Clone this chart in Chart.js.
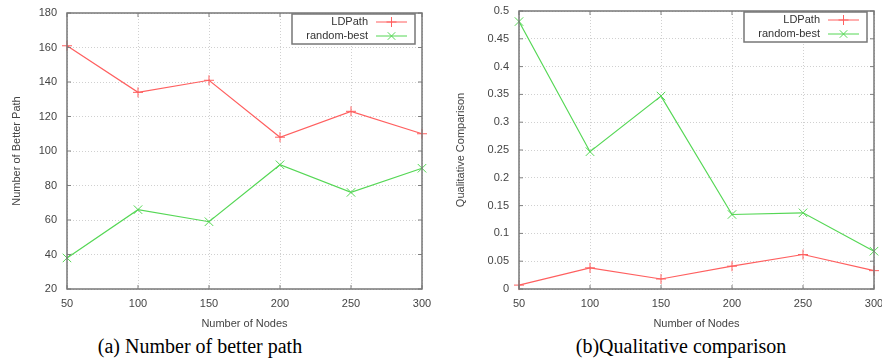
<!DOCTYPE html>
<html>
<head>
<meta charset="utf-8">
<script src="https://cdn.jsdelivr.net/npm/chart.js@4"></script>
<style>
  html, body { margin: 0; padding: 0; background: #fff; overflow: hidden; }
  body { width: 882px; height: 363px; position: relative; }
  .box { position: absolute; top: 0; }
  .cap { position: absolute; top: 335px; font-family: "Liberation Serif", "Times New Roman", serif; font-size: 20px; color: #000; white-space: nowrap; text-align: center; }
</style>
</head>
<body>
<div class="box" style="left:0"><canvas id="c1" width="441" height="335"></canvas></div>
<div class="box" style="left:441px"><canvas id="c2" width="441" height="335"></canvas></div>
<div class="cap" style="left:60px;width:280px">(a) Number of better path</div>
<div class="cap" style="left:541px;width:280px">(b)Qualitative comparison</div>
<script>
var nodes = [50, 100, 150, 200, 250, 300];
var seriesNames = ["LDPath", "random-best"];

// (a) number of better path
var ldpathBetter = [161, 134, 141, 108, 123, 110];
var randomBetter = [38, 66, 59, 92, 76, 90];
// (b) qualitative comparison
var ldpathQual = [0.007, 0.038, 0.018, 0.041, 0.062, 0.033];
var randomQual = [0.481, 0.247, 0.347, 0.134, 0.137, 0.068];

var xTicks = [50, 100, 150, 200, 250, 300];
var yTicksA = [20, 40, 60, 80, 100, 120, 140, 160, 180];
var yTicksB = [0, 0.05, 0.1, 0.15, 0.2, 0.25, 0.3, 0.35, 0.4, 0.45, 0.5];

var RED = 'rgb(255,95,95)';
var GREEN = 'rgb(85,215,85)';
var FONT = '"Liberation Sans", Arial, sans-serif';

function pts(ys) {
  return nodes.map(function (x, i) { return { x: x, y: ys[i] }; });
}

// frame around the plot + small inward tick marks
var framePlugin = {
  id: 'frame',
  afterDatasetsDraw: function (chart) {
    var a = chart.chartArea, c = chart.ctx;
    var xs = chart.scales.x, ys = chart.scales.y;
    c.save();
    c.strokeStyle = '#808080';
    c.lineWidth = 1;
    xs.ticks.forEach(function (t) {
      var px = xs.getPixelForValue(t.value);
      c.beginPath(); c.moveTo(px, a.bottom); c.lineTo(px, a.bottom - 4); c.stroke();
      c.beginPath(); c.moveTo(px, a.top); c.lineTo(px, a.top + 4); c.stroke();
    });
    ys.ticks.forEach(function (t) {
      var py = ys.getPixelForValue(t.value);
      c.beginPath(); c.moveTo(a.left, py); c.lineTo(a.left + 4, py); c.stroke();
      c.beginPath(); c.moveTo(a.right, py); c.lineTo(a.right - 4, py); c.stroke();
    });
    c.lineWidth = 1.5;
    c.strokeStyle = '#777';
    c.strokeRect(a.left, a.top, a.right - a.left, a.bottom - a.top);
    c.restore();
  }
};

// gnuplot style key in the upper right corner
var keyPlugin = {
  id: 'key',
  afterDatasetsDraw: function (chart) {
    var a = chart.chartArea, c = chart.ctx;
    var bx = a.right - 130, by = a.top + 1, bw = 123, bh = 30;
    c.save();
    c.fillStyle = '#fff';
    c.fillRect(bx, by, bw, bh);
    c.strokeStyle = '#777';
    c.lineWidth = 1.5;
    c.strokeRect(bx, by, bw, bh);
    c.font = '11px ' + FONT;
    c.textAlign = 'right';
    c.textBaseline = 'middle';
    chart.data.datasets.forEach(function (ds, i) {
      var y = by + 8 + i * 14;
      var x0 = a.right - 46, x1 = a.right - 15;
      c.fillStyle = '#333';
      c.fillText(ds.label, a.right - 54, y);
      c.strokeStyle = ds.borderColor;
      c.lineWidth = 1;
      c.beginPath(); c.moveTo(x0, y); c.lineTo(x1, y); c.stroke();
      var m = (x0 + x1) / 2, r = 5;
      c.beginPath();
      if (ds.pointStyle === 'cross') {
        c.moveTo(m, y - r); c.lineTo(m, y + r);
        c.moveTo(m - r, y); c.lineTo(m + r, y);
      } else {
        c.moveTo(m - r * 0.75, y - r * 0.75); c.lineTo(m + r * 0.75, y + r * 0.75);
        c.moveTo(m - r * 0.75, y + r * 0.75); c.lineTo(m + r * 0.75, y - r * 0.75);
      }
      c.stroke();
    });
    c.restore();
  }
};

function makeChart(id, ld, rnd, yTicks, yMin, yMax, yTitle, yWidth, titlePad, padTop, padRight) {
  return new Chart(document.getElementById(id), {
    type: 'line',
    data: {
      datasets: [{
        label: seriesNames[0],
        data: pts(ld),
        borderColor: RED,
        backgroundColor: RED,
        borderWidth: 1.2,
        pointStyle: 'cross',
        pointRadius: 5,
        pointBorderWidth: 1,
        tension: 0
      }, {
        label: seriesNames[1],
        data: pts(rnd),
        borderColor: GREEN,
        backgroundColor: GREEN,
        borderWidth: 1.2,
        pointStyle: 'crossRot',
        pointRadius: 6,
        pointBorderWidth: 1,
        tension: 0
      }]
    },
    options: {
      responsive: false,
      animation: false,
      clip: false,
      layout: { padding: { top: padTop, right: padRight, left: 0, bottom: 0 } },
      plugins: { legend: { display: false }, tooltip: { enabled: false } },
      scales: {
        x: {
          type: 'linear',
          min: 50,
          max: 300,
          afterBuildTicks: function (s) { s.ticks = xTicks.map(function (v) { return { value: v }; }); },
          afterFit: function (s) { s.height = 46; s.paddingLeft = 0; s.paddingRight = 0; },
          ticks: { color: '#444', font: { family: FONT, size: 11 }, padding: 8, maxRotation: 0,
                   callback: function (v) { return String(v); } },
          grid: { color: '#d0d0d0', drawTicks: false, lineWidth: 1 },
          border: { display: false, dash: [1, 2] },
          title: { display: true, text: 'Number of Nodes', color: '#444', font: { family: FONT, size: 11 }, padding: { top: 0, bottom: 4 } }
        },
        y: {
          min: yMin,
          max: yMax,
          afterBuildTicks: function (s) { s.ticks = yTicks.map(function (v) { return { value: v }; }); },
          afterFit: function (s) { s.width = yWidth; s.paddingTop = 0; s.paddingBottom = 0; },
          ticks: { color: '#444', font: { family: FONT, size: 11 }, padding: 10,
                   callback: function (v) { return String(+v.toFixed(2)); } },
          grid: { color: '#d0d0d0', drawTicks: false, lineWidth: 1 },
          border: { display: false, dash: [1, 2] },
          title: { display: true, text: yTitle, color: '#444', font: { family: FONT, size: 11 }, padding: { top: titlePad, bottom: 0 } }
        }
      }
    },
    plugins: [framePlugin, keyPlugin]
  });
}

makeChart('c1', ldpathBetter, randomBetter, yTicksA, 20, 180, 'Number of Better Path', 67, 10, 13, 19);
makeChart('c2', ldpathQual, randomQual, yTicksB, 0, 0.5, 'Qualitative Comparison', 78, 13, 11, 8);
</script>
</body>
</html>
